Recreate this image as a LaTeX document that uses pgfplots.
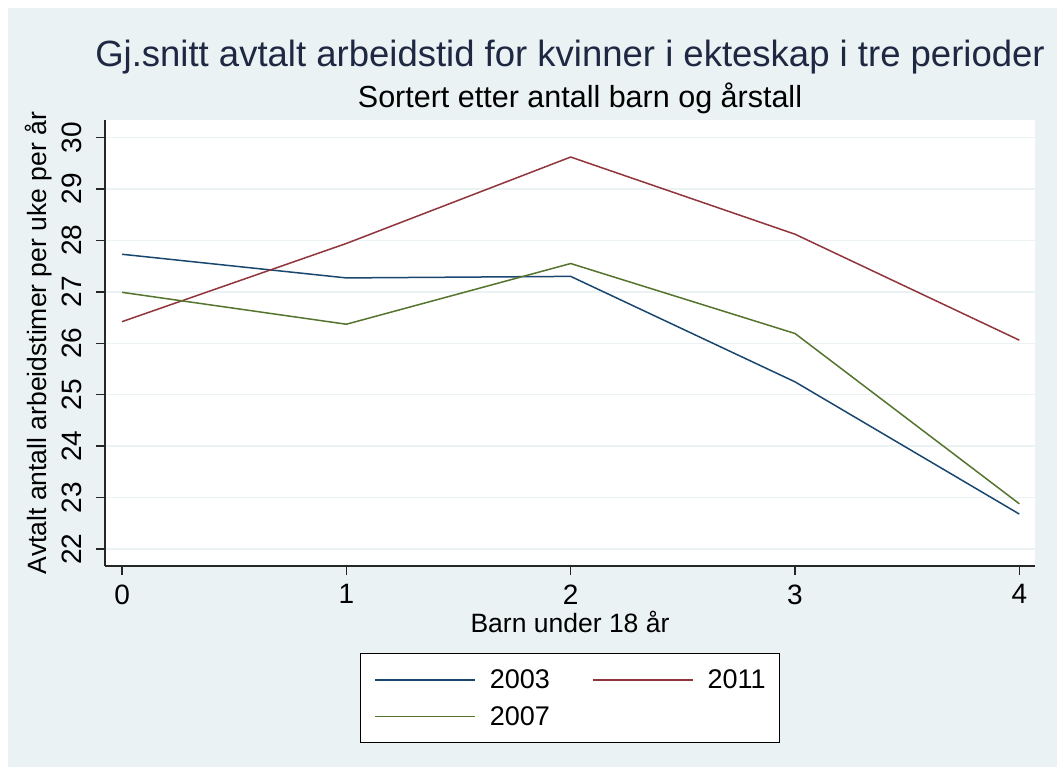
\documentclass[border=0pt]{standalone}
\usepackage{pgfplots}
\pgfplotsset{compat=1.18}
\usepackage{fontspec}
\setmainfont{Liberation Sans}

\definecolor{bgc}{RGB}{234,242,243}
\definecolor{s2navy}{RGB}{26,71,111}
\definecolor{s2maroon}{RGB}{144,53,59}
\definecolor{s2green}{RGB}{85,117,47}
\definecolor{ttl}{RGB}{30,40,66}

\begin{document}
\begin{tikzpicture}
% page background (Stata s2color look)
\fill[white] (0pt,0pt) rectangle (1057pt,-767pt);
\fill[bgc] (8pt,-8pt) rectangle (1057pt,-767pt);
\node[anchor=base, text=ttl, font=\fontsize{36.5}{40}\selectfont, inner sep=0pt] at (570pt,-67pt)
  {Gj.snitt avtalt arbeidstid for kvinner i ekteskap i tre perioder};
\node[anchor=base, text=black, font=\fontsize{30.5}{34}\selectfont, inner sep=0pt] at (580pt,-108pt)
  {Sortert etter antall barn og årstall};

\begin{axis}[
    at={(105pt,-566pt)}, anchor=south west,
    width=930pt, height=446pt, scale only axis,
    xmin=-0.076, xmax=4.07,
    ymin=21.67, ymax=30.34,
    xtick={0,1,2,3,4},
    ytick={22,23,24,25,26,27,28,29,30},
    axis lines=left,
    axis line style={-, line width=1.4pt, black!85},
    axis background/.style={fill=white},
    tick align=outside,
    major tick length=9pt,
    tick style={line width=1.4pt, black!85},
    ymajorgrids,
    grid style={bgc, line width=1.5pt},
    /pgf/number format/assume math mode=true,
    ticklabel style={font=\fontsize{28}{32}\selectfont},
    yticklabel style={rotate=90, anchor=south},
    yticklabel shift=11pt,
    xticklabel shift=6pt,
    xlabel={Barn under 18 år},
    ylabel={Avtalt antall arbeidstimer per uke per år},
    every axis x label/.style={at={(axis description cs:0.5,-0.1256)}, anchor=center,
        font=\fontsize{26.5}{30}\selectfont},
    every axis y label/.style={at={(axis description cs:-0.071,0.5)}, rotate=90, anchor=center,
        font=\fontsize{26.5}{30}\selectfont},
    legend columns=2,
    legend cell align=left,
    legend image code/.code={\draw[#1] (0pt,0pt) -- (100pt,0pt);},
    legend style={at={(0.5,-0.195)}, anchor=north,
        fill=white, draw=black, line width=1.3pt,
        font=\fontsize{27}{30}\selectfont,
        nodes={inner sep=0pt},
        inner xsep=14pt, inner ysep=16pt,
        row sep=16.5pt,
        /tikz/every odd column/.append style={column sep=14pt},
        /tikz/every even column/.append style={column sep=42pt}},
  ]
\addplot[s2navy, line width=1.5pt] coordinates {
    (0,27.73) (1,27.27) (2,27.30) (3,25.25) (4,22.68)};
\addlegendentry{2003}
\addplot[s2maroon, line width=1.5pt] coordinates {
    (0,26.42) (1,27.94) (2,29.62) (3,28.12) (4,26.06)};
\addlegendentry{2011}
\addplot[s2green, line width=1.5pt] coordinates {
    (0,26.99) (1,26.37) (2,27.55) (3,26.19) (4,22.88)};
\addlegendentry{2007}
\end{axis}
\end{tikzpicture}
\end{document}
